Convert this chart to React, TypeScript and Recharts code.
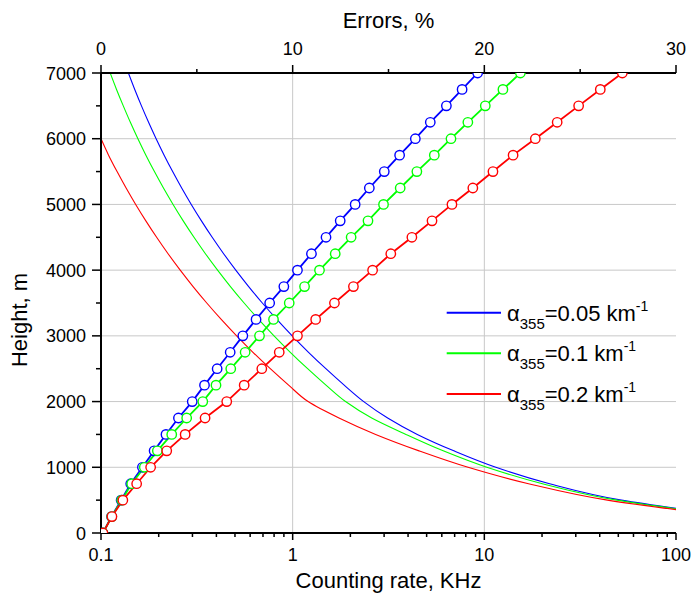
import React from 'react';
import { ComposedChart, Line, XAxis, YAxis, ReferenceLine, Legend } from 'recharts';

const FONT = "'Liberation Sans', Arial, Helvetica, sans-serif";

const heights = [0, 250, 500, 750, 1000, 1250, 1500, 1750, 2000, 2250, 2500, 2750, 3000, 3250, 3500, 3750, 4000, 4250, 4500, 4750, 5000, 5250, 5500, 5750, 6000, 6250, 6500, 6750, 7000];

// Counting rate, KHz (bottom log axis)
const rateBlue = [null, 214, 51.9, 21.9, 11.48, 6.93, 4.47, 3.13, 2.348, 1.857, 1.49, 1.21, 0.9947, 0.8267, 0.6946, 0.5894, 0.5049, 0.4363, 0.3803, 0.3342, 0.2958, 0.2636, 0.2365, 0.2135, 0.1939, 0.1771, 0.1626, 0.15, 0.139];
const rateGreen = [null, 208, 49.1, 20.1, 10.3, 6.1, 3.9, 2.585, 1.887, 1.492, 1.197, 0.9722, 0.7993, 0.6642, 0.5581, 0.4736, 0.4057, 0.3506, 0.3056, 0.2685, 0.2377, 0.2118, 0.19, 0.1715, 0.1558, 0.1423, 0.1307, 0.1205, 0.1117];
const rateRed = [null, 197, 43.9, 17.0, 8.22, 4.565, 2.71, 1.744, 1.204, 0.9525, 0.7642, 0.6206, 0.5102, 0.424, 0.3563, 0.3023, 0.259, 0.2238, 0.1951, 0.1714, 0.1517, 0.1352, 0.1213, 0.1095, 0.1, null, null, null, null];

// Errors, % (top linear axis)
const errBlue = [0.1, 0.55, 1.05, 1.55, 2.16, 2.77, 3.39, 4.04, 4.76, 5.4, 6.06, 6.74, 7.4, 8.09, 8.8, 9.54, 10.25, 10.98, 11.74, 12.48, 13.26, 14.0, 14.78, 15.58, 16.4, 17.18, 18.02, 18.84, 19.65];
const errGreen = [0.1, 0.56, 1.08, 1.6, 2.26, 2.94, 3.69, 4.47, 5.31, 6.0, 6.77, 7.52, 8.27, 9.0, 9.82, 10.62, 11.4, 12.22, 13.05, 13.93, 14.74, 15.61, 16.48, 17.39, 18.26, 19.14, 20.05, 20.97, 21.88];
const errRed = [0.1, 0.57, 1.14, 1.86, 2.59, 3.43, 4.39, 5.43, 6.56, 7.47, 8.39, 9.3, 10.25, 11.2, 12.18, 13.17, 14.17, 15.12, 16.22, 17.27, 18.31, 19.4, 20.45, 21.5, 22.66, 23.8, 24.92, 26.05, 27.2];

const rateTicks = [0.1, 0.2, 0.3, 0.4, 0.5, 0.6, 0.7, 0.8, 0.9, 1, 2, 3, 4, 5, 6, 7, 8, 9, 10, 20, 30, 40, 50, 60, 70, 80, 90, 100];
const rateLabels = [0.1, 1, 10, 100];
const rateGrid = [1, 10];
const errTicks = [0, 5, 10, 15, 20, 25, 30];
const errLabels = [0, 10, 20, 30];
const heightTicks = [0, 500, 1000, 1500, 2000, 2500, 3000, 3500, 4000, 4500, 5000, 5500, 6000, 6500, 7000];
const heightLabels = [0, 1000, 2000, 3000, 4000, 5000, 6000, 7000];
const heightGrid = [1000, 2000, 3000, 4000, 5000, 6000];

const seriesColors = ['#0000ff', '#00ff00', '#ff0000'];
const alphaValues = ['0.05', '0.1', '0.2'];

const data = heights.map((h, i) => ({
  h,
  rb: rateBlue[i],
  rg: rateGreen[i],
  rr: rateRed[i],
  eb: errBlue[i],
  eg: errGreen[i],
  er: errRed[i],
}));

const LeftTick = (props: any) => {
  const { x, y, payload } = props;
  const v = payload.value;
  const major = heightLabels.includes(v);
  return (
    <g>
      <line x1={x - (major ? 9 : 5)} x2={x} y1={y} y2={y} stroke="#000" strokeWidth={1.5} />
      {major && (
        <text x={x - 15} y={y + 6.5} textAnchor="end" fontSize={18} fontFamily={FONT} fill="#000">
          {v}
        </text>
      )}
    </g>
  );
};

const RightTick = (props: any) => {
  const { x, y } = props;
  return <line x1={x - 5} x2={x} y1={y} y2={y} stroke="#000" strokeWidth={1.5} />;
};

const BottomTick = (props: any) => {
  const { x, y, payload } = props;
  const v = payload.value;
  const major = rateLabels.includes(v);
  return (
    <g>
      <line x1={x} x2={x} y1={y} y2={y + (major ? 7 : 4)} stroke="#000" strokeWidth={1.5} />
      {major && (
        <text x={x} y={y + 28} textAnchor="middle" fontSize={18} fontFamily={FONT} fill="#000">
          {v}
        </text>
      )}
    </g>
  );
};

const TopTick = (props: any) => {
  const { x, y, payload } = props;
  const v = payload.value;
  const major = errLabels.includes(v);
  return (
    <g>
      <line x1={x} x2={x} y1={y - (major ? 8 : 4)} y2={y} stroke="#000" strokeWidth={1.5} />
      {major && (
        <text x={x} y={y - 18} textAnchor="middle" fontSize={18} fontFamily={FONT} fill="#000">
          {v}
        </text>
      )}
    </g>
  );
};

const bottomTitle = (props: any) => {
  const vb = props.viewBox;
  return (
    <text x={vb.x + vb.width / 2} y={vb.y + 55} textAnchor="middle" fontSize={22} fontFamily={FONT} fill="#000">
      Counting rate, KHz
    </text>
  );
};

const topTitle = (props: any) => {
  const vb = props.viewBox;
  return (
    <text x={vb.x + vb.width / 2} y={28} textAnchor="middle" fontSize={22} fontFamily={FONT} fill="#000">
      Errors, %
    </text>
  );
};

const leftTitle = (props: any) => {
  const vb = props.viewBox;
  const cx = 27;
  const cy = vb.y + vb.height / 2 + 17;
  return (
    <text x={cx} y={cy} transform={`rotate(-90, ${cx}, ${cy})`} textAnchor="middle" fontSize={22} fontFamily={FONT} fill="#000">
      Height, m
    </text>
  );
};

const renderLegend = () => (
  <svg width={245} height={125} style={{ display: 'block' }}>
    {alphaValues.map((a, i) => {
      const cy = 22.7 + i * 40.6;
      return (
        <g key={a}>
          <line x1={6.7} x2={61} y1={cy} y2={cy} stroke={seriesColors[i]} strokeWidth={2} />
          <text x={67} y={cy + 8} fontSize={22} fontFamily={FONT} fill="#000">
            α
            <tspan fontSize={15} dy={8}>355</tspan>
            <tspan fontSize={22} dy={-8}>{`=${a} km`}</tspan>
            <tspan fontSize={14} dy={-10}>-1</tspan>
          </text>
        </g>
      );
    })}
  </svg>
);

export default function App() {
  return (
    <div style={{ position: 'absolute', left: 0, top: 0, width: 692, height: 601, background: '#fff' }}>
      <ComposedChart
        width={692}
        height={601}
        data={data}
        layout="vertical"
        margin={{ top: 0, right: 16, bottom: 0, left: 0 }}
      >
        <XAxis
          xAxisId="rate"
          type="number"
          scale="log"
          domain={[0.1, 100]}
          allowDataOverflow
          ticks={rateTicks}
          interval={0}
          orientation="bottom"
          height={68}
          tickSize={0}
          tickMargin={0}
          tickLine={false}
          tick={BottomTick}
          axisLine={{ stroke: '#000', strokeWidth: 2 }}
          label={bottomTitle}
        />
        <XAxis
          xAxisId="err"
          type="number"
          domain={[0, 30]}
          allowDataOverflow
          ticks={errTicks}
          interval={0}
          orientation="top"
          height={73}
          tickSize={0}
          tickMargin={0}
          tickLine={false}
          tick={TopTick}
          axisLine={{ stroke: '#000', strokeWidth: 2 }}
          label={topTitle}
        />
        <YAxis
          yAxisId="h"
          type="number"
          dataKey="h"
          domain={[0, 7000]}
          allowDataOverflow
          reversed
          ticks={heightTicks}
          interval={0}
          orientation="left"
          width={101}
          tickSize={0}
          tickMargin={0}
          tickLine={false}
          tick={LeftTick}
          axisLine={{ stroke: '#000', strokeWidth: 2 }}
          label={leftTitle}
        />
        <YAxis
          yAxisId="right"
          type="number"
          domain={[0, 7000]}
          allowDataOverflow
          reversed
          ticks={heightTicks}
          interval={0}
          orientation="right"
          width={0}
          tickSize={0}
          tickMargin={0}
          tickLine={false}
          tick={RightTick}
          axisLine={{ stroke: '#000', strokeWidth: 2 }}
        />
        {rateGrid.map((v) => (
          <ReferenceLine key={`gx${v}`} x={v} xAxisId="rate" yAxisId="h" stroke="#c8c8c8" strokeWidth={1} />
        ))}
        {heightGrid.map((v) => (
          <ReferenceLine key={`gy${v}`} y={v} xAxisId="rate" yAxisId="h" stroke="#c8c8c8" strokeWidth={1} />
        ))}
        <Line xAxisId="rate" yAxisId="h" dataKey="rb" type="monotone" stroke={seriesColors[0]} strokeWidth={1.1} dot={false} activeDot={false} isAnimationActive={false} legendType="none" />
        <Line xAxisId="rate" yAxisId="h" dataKey="rg" type="monotone" stroke={seriesColors[1]} strokeWidth={1.1} dot={false} activeDot={false} isAnimationActive={false} legendType="none" />
        <Line xAxisId="rate" yAxisId="h" dataKey="rr" type="monotone" stroke={seriesColors[2]} strokeWidth={1.1} dot={false} activeDot={false} isAnimationActive={false} legendType="none" />
        <Line xAxisId="err" yAxisId="h" dataKey="eb" type="linear" stroke={seriesColors[0]} strokeWidth={1.8} dot={{ r: 4.7, fill: '#fff', stroke: seriesColors[0], strokeWidth: 1.4 }} activeDot={false} isAnimationActive={false} />
        <Line xAxisId="err" yAxisId="h" dataKey="eg" type="linear" stroke={seriesColors[1]} strokeWidth={1.8} dot={{ r: 4.7, fill: '#fff', stroke: seriesColors[1], strokeWidth: 1.4 }} activeDot={false} isAnimationActive={false} />
        <Line xAxisId="err" yAxisId="h" dataKey="er" type="linear" stroke={seriesColors[2]} strokeWidth={1.8} dot={{ r: 4.7, fill: '#fff', stroke: seriesColors[2], strokeWidth: 1.4 }} activeDot={false} isAnimationActive={false} />
        <Legend
          layout="vertical"
          align="center"
          verticalAlign="middle"
          wrapperStyle={{ left: 440, top: 290, width: 245, height: 125 }}
          content={renderLegend}
        />
      </ComposedChart>
    </div>
  );
}
